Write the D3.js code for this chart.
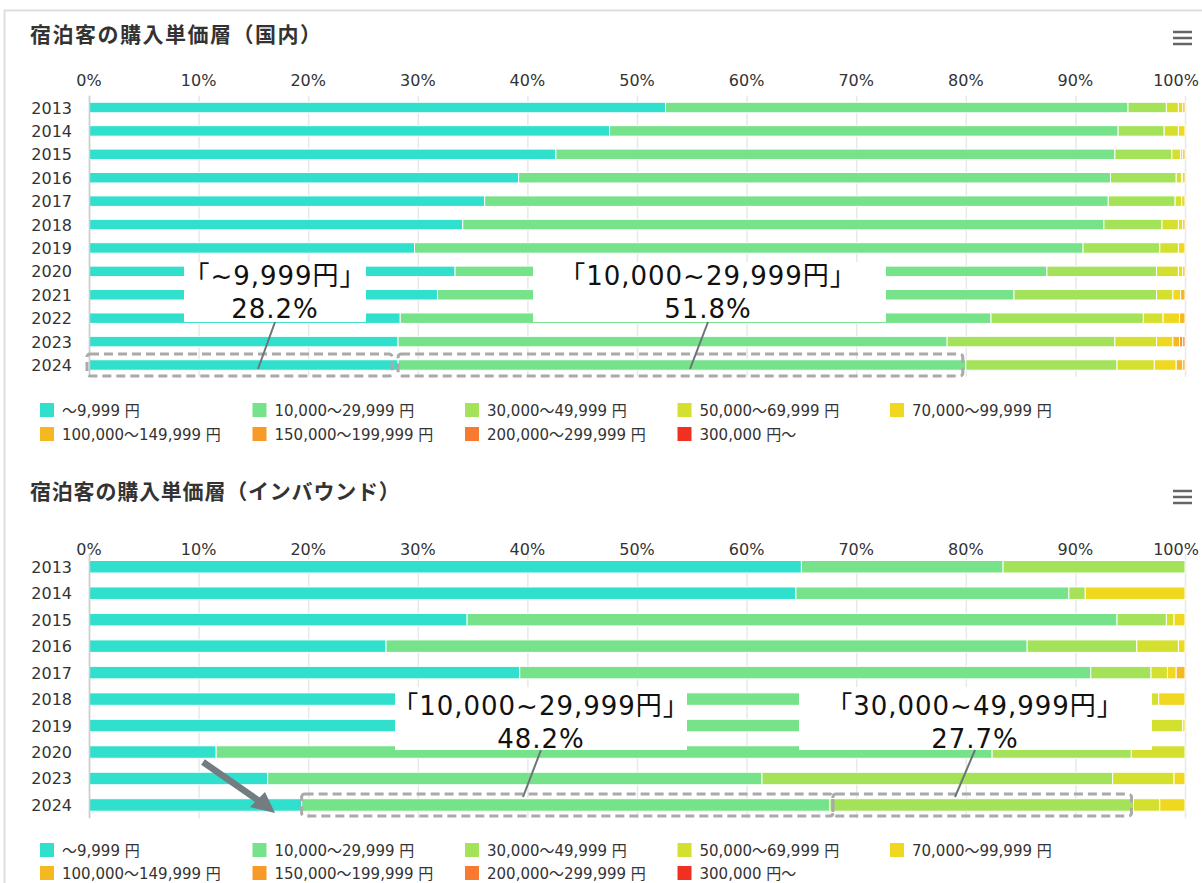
<!DOCTYPE html>
<html>
<head>
<meta charset="utf-8">
<script src="https://cdn.jsdelivr.net/npm/d3@7"></script>
<style>
  html, body { margin: 0; padding: 0; background: #fff; }
  svg { display: block; }
</style>
</head>
<body>
<svg id="chart"></svg>
<script>
// price tiers (legend order)
const tierLabels = ['～9,999 円', '10,000～29,999 円', '30,000～49,999 円', '50,000～69,999 円', '70,000～99,999 円',
  '100,000～149,999 円', '150,000～199,999 円', '200,000～299,999 円', '300,000 円～']
const tierColors = ['#30e0cc', '#76e28a', '#a4e25a', '#d4e030', '#f0d820', '#f4b820', '#f79a28', '#f87a30', '#f03020']

const tickValues = [0, 10, 20, 30, 40, 50, 60, 70, 80, 90, 100]

// 国内 : share (%) per tier, one row per year
const domesticYears = ['2013', '2014', '2015', '2016', '2017', '2018', '2019', '2020', '2021', '2022', '2023', '2024']
const domesticShares = [
  [52.6, 42.2, 3.5, 1.1, 0.4, 0.2],
  [47.5, 46.4, 4.2, 1.3, 0.6],
  [42.6, 51.0, 5.2, 0.8, 0.2, 0.2],
  [39.2, 54.0, 6.0, 0.5, 0.1, 0.2],
  [36.1, 56.9, 6.1, 0.6, 0.3],
  [34.1, 58.5, 5.3, 1.5, 0.4, 0.2],
  [29.7, 61.0, 7.0, 1.7, 0.6],
  [33.4, 54.0, 10.0, 2.0, 0.4, 0.2],
  [31.8, 52.6, 13.0, 1.5, 0.7, 0.4],
  [28.4, 53.9, 13.9, 1.8, 1.5, 0.5],
  [28.2, 50.1, 15.3, 3.8, 1.5, 0.6, 0.3, 0.2],
  [28.2, 51.8, 13.8, 3.4, 2.0, 0.6, 0.2]
]

// インバウンド
const inboundYears = ['2013', '2014', '2015', '2016', '2017', '2018', '2019', '2020', '2023', '2024']
const inboundShares = [
  [65.0, 18.4, 16.6],
  [64.5, 24.9, 1.5, 0, 9.1],
  [34.5, 59.3, 4.5, 0.7, 1.0],
  [27.1, 58.5, 10.0, 3.8, 0.6],
  [39.3, 52.1, 5.5, 1.5, 0.8, 0.8],
  [35.0, 47.0, 14.9, 0.7, 2.4],
  [34.0, 50.0, 12.9, 2.9, 0.2],
  [11.6, 70.8, 12.7, 4.9],
  [16.3, 45.1, 32.0, 5.6, 1.0],
  [19.4, 48.2, 27.7, 2.4, 2.3]
]

const width = 1202, height = 883
const svg = d3.select('#chart').attr('width', width).attr('height', height)
const FONT = '"DejaVu Sans", "Noto Sans CJK JP", sans-serif'
const TITLE_FONT = '"Noto Sans CJK JP", "DejaVu Sans", sans-serif'

// panel border (left + top)
svg.append('line').attr('x1', 4).attr('x2', width).attr('y1', 10.5).attr('y2', 10.5).attr('stroke', '#ddd').attr('stroke-width', 2)
svg.append('line').attr('x1', 4.5).attr('x2', 4.5).attr('y1', 10).attr('y2', height).attr('stroke', '#ddd').attr('stroke-width', 2)

const x = d3.scaleLinear().domain([0, 100]).range([89, 1185])

function drawChart(cfg) {
  let g = svg.append('g')

  g.append('text')
    .attr('x', 30).attr('y', cfg.titleY)
    .attr('font-family', TITLE_FONT).attr('font-weight', 'bold')
    .attr('font-size', 21).attr('letter-spacing', cfg.titleSpacing)
    .attr('fill', '#333')
    .text(cfg.title)

  // hamburger menu
  ;[0, 6, 12].forEach(dy => {
    g.append('line').attr('x1', 1173).attr('x2', 1192)
      .attr('y1', cfg.menuY + dy).attr('y2', cfg.menuY + dy)
      .attr('stroke', '#666').attr('stroke-width', 2.5)
  })

  let y = d3.scaleBand().domain(cfg.years).range(cfg.yRange).padding(0)

  // grid
  g.append('g').selectAll('line').data(tickValues).enter().append('line')
    .attr('x1', d => x(d) + 0.5).attr('x2', d => x(d) + 0.5)
    .attr('y1', cfg.yRange[0]).attr('y2', cfg.yRange[1])
    .attr('stroke', '#e8e8e8').attr('stroke-width', 1.5)

  // tick labels (top)
  g.append('g').selectAll('text').data(tickValues).enter().append('text')
    .attr('x', d => Math.min(x(d), 1176))
    .attr('y', cfg.tickY)
    .attr('text-anchor', 'middle')
    .attr('font-family', FONT).attr('font-size', 16).attr('fill', '#333')
    .text(d => d + '%')

  // year labels
  g.append('g').selectAll('text').data(cfg.years).enter().append('text')
    .attr('x', 72).attr('y', d => y(d) + y.bandwidth() / 2 + 6)
    .attr('text-anchor', 'end')
    .attr('font-family', FONT).attr('font-size', 16).attr('fill', '#333')
    .text(d => d)

  // stacked bars
  let rows = cfg.shares.map((vals, i) => {
    let r = { year: cfg.years[i] }
    tierLabels.forEach((t, k) => { r[k] = vals[k] || 0 })
    return r
  })
  let stack = d3.stack().keys(tierLabels.map((t, k) => k))(rows)

  g.append('g').selectAll('g').data(stack).enter().append('g')
    .attr('fill', (d, k) => tierColors[k])
    .selectAll('rect').data(d => d.filter(s => s[1] - s[0] > 0)).enter().append('rect')
    .attr('x', d => x(d[0]))
    .attr('width', d => x(d[1]) - x(d[0]))
    .attr('y', d => y(d.data.year) + (y.bandwidth() - cfg.barH) / 2)
    .attr('height', cfg.barH)
    .attr('stroke', '#fff').attr('stroke-width', 1)

  // left axis line
  g.append('line').attr('x1', 89.5).attr('x2', 89.5)
    .attr('y1', cfg.yRange[0]).attr('y2', cfg.yRange[1])
    .attr('stroke', '#ccc').attr('stroke-width', 1.5)

  // legend
  let leg = g.append('g').selectAll('g').data(tierLabels).enter().append('g')
    .attr('transform', (d, i) => `translate(${40 + (i % 5) * 212.5},${cfg.legendY + Math.floor(i / 5) * cfg.legendStep})`)
  leg.append('rect').attr('x', 0).attr('y', -7).attr('width', 14).attr('height', 14)
    .attr('fill', (d, i) => tierColors[i])
  leg.append('text').attr('x', 22).attr('y', 5.5)
    .attr('font-family', FONT).attr('font-size', 15).attr('fill', '#333')
    .text(d => d)

  // annotations
  let ann = g.append('g')
  cfg.boxes.forEach(b => {
    let row = y(b.year) + y.bandwidth() / 2
    ann.append('rect')
      .attr('x', x(b.from) + b.dx[0]).attr('width', x(b.to) - x(b.from) + b.dx[1] - b.dx[0])
      .attr('y', row - 11).attr('height', 22).attr('rx', 3)
      .attr('fill', 'none').attr('stroke', '#aaa').attr('stroke-width', 3)
      .attr('stroke-dasharray', '9,5')
  })
  cfg.labels.forEach(l => {
    ann.append('rect').attr('x', l.box[0]).attr('y', l.box[1])
      .attr('width', l.box[2] - l.box[0]).attr('height', l.box[3] - l.box[1]).attr('fill', '#fff')
    ann.append('line').attr('x1', l.cx).attr('y1', l.box[3]).attr('x2', l.tip[0]).attr('y2', l.tip[1])
      .attr('stroke', '#6b7478').attr('stroke-width', 2)
    l.lines.forEach((t, j) => {
      ann.append('text').attr('x', l.cx).attr('y', l.baseY + j * 33)
        .attr('text-anchor', 'middle')
        .attr('font-family', FONT).attr('font-size', 26).attr('letter-spacing', 1)
        .attr('fill', '#111')
        .text(t)
    })
  })
  return g
}

drawChart({
  title: '宿泊客の購入単価層（国内）', titleY: 42, titleSpacing: 1.5, menuY: 32,
  years: domesticYears, shares: domesticShares,
  yRange: [95.8, 376.7], barH: 10.5, tickY: 86, legendY: 410, legendStep: 24,
  boxes: [
    { year: '2024', from: 0, to: 28.2, dx: [-2, -6] },
    { year: '2024', from: 28.2, to: 80, dx: [0, -3] }
  ],
  labels: [
    { box: [184, 262, 366, 322], cx: 275, tip: [258, 369], baseY: 285, lines: ['「~9,999円」', '28.2%'] },
    { box: [533, 262, 886, 322], cx: 708, tip: [690, 369], baseY: 285, lines: ['「10,000~29,999円」', '51.8%'] }
  ]
})

drawChart({
  title: '宿泊客の購入単価層（インバウンド）', titleY: 499, titleSpacing: 0.8, menuY: 491,
  years: inboundYears, shares: inboundShares,
  yRange: [553.5, 818.2], barH: 12.5, tickY: 555, legendY: 850, legendStep: 23,
  boxes: [
    { year: '2024', from: 19.4, to: 67.6, dx: [0, 3] },
    { year: '2024', from: 67.6, to: 95.3, dx: [3, -2] }
  ],
  labels: [
    { box: [395, 687, 687, 750], cx: 541, tip: [523, 797], baseY: 715, lines: ['「10,000~29,999円」', '48.2%'] },
    { box: [799, 687, 1152, 750], cx: 975, tip: [955, 797], baseY: 715, lines: ['「30,000~49,999円」', '27.7%'] }
  ]
})

// arrow pointing at the 2024 inbound bar
let arrow = svg.append('g')
arrow.append('line').attr('x1', 203).attr('y1', 762).attr('x2', 262).attr('y2', 803)
  .attr('stroke', '#737c80').attr('stroke-width', 6.5)
arrow.append('path')
  .attr('d', 'M275,813 L250,807 L265,792 Z')
  .attr('fill', '#737c80')
</script>
</body>
</html>
